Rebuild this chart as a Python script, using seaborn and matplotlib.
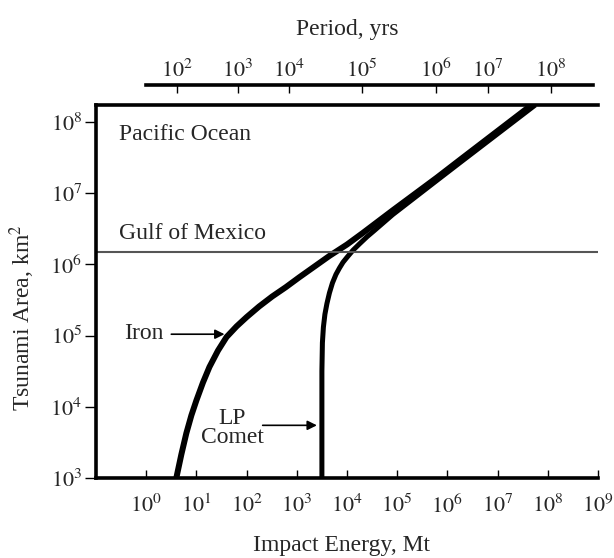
import numpy as np
import pandas as pd
import matplotlib
matplotlib.use("Agg")
import matplotlib.pyplot as plt
import seaborn as sns

# ---- data (log10 values) ----
iron_log_energy = [0.60, 0.70, 0.80, 0.90, 1.00, 1.13, 1.26, 1.43, 1.60, 1.80, 2.00, 2.25,
                   2.51, 2.78, 3.05, 3.35, 3.65, 4.00, 4.31, 4.91, 5.79, 6.25, 7.75]
iron_log_area   = [3.00, 3.33, 3.63, 3.88, 4.09, 4.34, 4.56, 4.79, 4.98, 5.13, 5.26, 5.41,
                   5.55, 5.68, 5.82, 5.97, 6.12, 6.28, 6.44, 6.76, 7.22, 7.47, 8.28]

comet_log_energy = [3.50, 3.50, 3.51, 3.53, 3.56, 3.60, 3.65, 3.71, 3.78, 3.85, 3.92, 4.00,
                    4.12, 4.25, 4.40, 4.55, 4.91, 5.79, 6.25, 7.75]
comet_log_area   = [3.00, 4.50, 4.90, 5.12, 5.30, 5.45, 5.60, 5.74, 5.86, 5.95, 6.03, 6.10,
                    6.20, 6.29, 6.39, 6.48, 6.70, 7.18, 7.43, 8.24]

gulf_log_area = 6.18

bottom_tick_exp = list(range(0, 10))
left_tick_exp = list(range(3, 9))
period_tick_log_energy = [0.62, 1.82, 2.84, 4.30, 5.78, 6.80, 8.06]
period_tick_exp = [2, 3, 4, 5, 6, 7, 8]

iron = pd.DataFrame({"energy": np.power(10.0, iron_log_energy),
                     "area": np.power(10.0, iron_log_area)})
comet = pd.DataFrame({"energy": np.power(10.0, comet_log_energy),
                      "area": np.power(10.0, comet_log_area)})

sns.set_theme(style="ticks")
plt.rcParams["font.family"] = ["Liberation Serif", "DejaVu Serif"]
plt.rcParams["mathtext.fontset"] = "stix"

FS_TICK = 16
FS_TEXT = 17

fig = plt.figure(figsize=(6.14, 5.58), dpi=100)
L, B, W, H = 96 / 614, 80 / 558, 502 / 614, 373 / 558
ax = fig.add_axes([L, B, W, H])

sns.lineplot(data=iron, x="energy", y="area", ax=ax, color="black", lw=4.3,
             sort=False, estimator=None, solid_capstyle="butt", solid_joinstyle="round")
sns.lineplot(data=comet, x="energy", y="area", ax=ax, color="black", lw=3.6,
             sort=False, estimator=None, solid_capstyle="butt", solid_joinstyle="round")

ax.axhline(10 ** gulf_log_area, color="#555555", lw=1.5)

ax.set_xscale("log")
ax.set_yscale("log")
ax.set_xlim(10 ** -1.0, 10 ** 9)
ax.set_ylim(1e3, 10 ** 8.24)

ax.set_xticks([10.0 ** e for e in bottom_tick_exp])
ax.set_xticklabels([f"$10^{{{e}}}$" for e in bottom_tick_exp])
ax.set_yticks([10.0 ** e for e in left_tick_exp])
ax.set_yticklabels([f"$10^{{{e}}}$" for e in left_tick_exp])
ax.minorticks_off()
ax.tick_params(axis="x", direction="in", length=6, width=1, labelsize=FS_TICK, pad=12, color="black")
ax.tick_params(axis="y", direction="out", length=8, width=1, labelsize=FS_TICK, pad=2, color="black")

for s in ["left", "bottom", "top"]:
    ax.spines[s].set_linewidth(2.6)
    ax.spines[s].set_color("black")
ax.spines["right"].set_visible(False)

ax.set_xlabel("Impact Energy, Mt", fontsize=FS_TEXT)
ax.xaxis.set_label_coords(0.49, -0.152)
ax.set_ylabel("Tsunami Area, km$^2$", fontsize=FS_TEXT)
ax.yaxis.set_label_coords(-0.118, 0.43)

ax.text(10 ** -0.54, 10 ** 7.82, "Pacific Ocean", fontsize=FS_TEXT, va="center", ha="left")
ax.text(10 ** -0.54, 10 ** 6.44, "Gulf of Mexico", fontsize=FS_TEXT, va="center", ha="left")
ax.text(10 ** -0.44, 10 ** 5.03, "Iron", fontsize=FS_TEXT, va="center", ha="left")
ax.text(10 ** 1.72, 10 ** 3.70, "LP\nComet", fontsize=FS_TEXT, va="center", ha="center",
        linespacing=0.9)

arrow = dict(arrowstyle="-|>", color="black", lw=1.2, mutation_scale=14, shrinkA=0, shrinkB=0)
ax.annotate("", xy=(10 ** 1.56, 10 ** 5.02), xytext=(10 ** 0.50, 10 ** 5.02), arrowprops=arrow)
ax.annotate("", xy=(10 ** 3.40, 10 ** 3.74), xytext=(10 ** 2.32, 10 ** 3.74), arrowprops=arrow)

# ---- period axis on top ----
py = (558 - 85) / 558
pax = fig.add_axes([L, py - 0.03, W, 0.03])
pax.set_xscale("log")
pax.set_xlim(ax.get_xlim())
pax.set_ylim(0, 1)
pax.patch.set_alpha(0)
for s in ["left", "right", "bottom"]:
    pax.spines[s].set_visible(False)
pax.spines["top"].set_linewidth(2.6)
pax.spines["top"].set_color("black")
pax.spines["top"].set_bounds(10 ** 0.0, 10 ** 8.9)
pax.set_yticks([])
pax.xaxis.tick_top()
pax.set_xticks([10.0 ** v for v in period_tick_log_energy])
pax.set_xticklabels([f"$10^{{{e}}}$" for e in period_tick_exp])
pax.minorticks_off()
pax.tick_params(axis="x", direction="in", length=6, width=1, labelsize=FS_TICK, pad=2, color="black")
pax.xaxis.set_label_position("top")
pax.set_xlabel("Period, yrs", fontsize=FS_TEXT, labelpad=17)

fig.savefig("out.png", dpi=100)
